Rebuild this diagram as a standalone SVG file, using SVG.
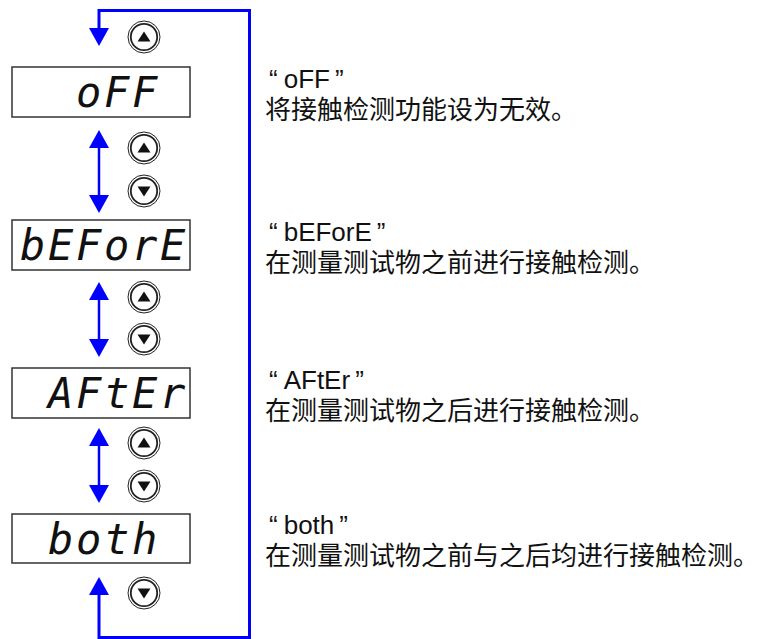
<svg xmlns="http://www.w3.org/2000/svg" xmlns:xlink="http://www.w3.org/1999/xlink" width="760" height="639" viewBox="0 0 760 639">
<style>
.box{fill:#fff;stroke:#333;stroke-width:1.5}
.seg{font-family:"DejaVu Sans Mono","Liberation Mono",monospace;font-style:oblique;font-size:42px;fill:#111}
.lat{font-family:"Liberation Sans",Arial,sans-serif;font-size:26px;fill:#111}
.cjk{font-family:"Noto Sans CJK SC","Liberation Sans",sans-serif;font-size:26px;fill:#111}
.loop{fill:none;stroke:#0000ff;stroke-width:3}
.dbl{fill:none;stroke:#0000ff;stroke-width:2.5}
.ring1{fill:#fff;stroke:#222;stroke-width:1}
.ring2{fill:#fff;stroke:#222;stroke-width:1.8}
.tri{fill:#111}
</style>
<defs>
<marker id="ah" viewBox="0 0 18 20" refX="0" refY="10" markerWidth="18" markerHeight="20" markerUnits="userSpaceOnUse" orient="auto-start-reverse">
<path d="M0,0 L18,10 L0,20 Z" fill="#0000ff"/>
</marker>
<g id="btnUp"><circle r="16" class="ring1"/><circle r="13.2" class="ring2"/><path d="M0,-5.5 L6.5,4.5 L-6.5,4.5 Z" class="tri"/></g>
<g id="btnDown"><circle r="16" class="ring1"/><circle r="13.2" class="ring2"/><path d="M0,5.5 L6.5,-4.5 L-6.5,-4.5 Z" class="tri"/></g>
</defs>

<g id="connectors">
<path class="loop" d="M99,595 L99,637.5 L249.5,637.5 L249.5,10.5 L99,10.5 L99,28" marker-start="url(#ah)" marker-end="url(#ah)"/>
<path class="dbl" d="M99,148 L99,195" marker-start="url(#ah)" marker-end="url(#ah)"/>
<path class="dbl" d="M99,300 L99,339" marker-start="url(#ah)" marker-end="url(#ah)"/>
<path class="dbl" d="M99,446 L99,485" marker-start="url(#ah)" marker-end="url(#ah)"/>
</g>

<g id="btn-0"><use xlink:href="#btnUp" x="144" y="37"/></g>
<g id="btn-1u"><use xlink:href="#btnUp" x="144" y="148"/></g>
<g id="btn-1d"><use xlink:href="#btnDown" x="144" y="191"/></g>
<g id="btn-2u"><use xlink:href="#btnUp" x="144" y="297"/></g>
<g id="btn-2d"><use xlink:href="#btnDown" x="144" y="339"/></g>
<g id="btn-3u"><use xlink:href="#btnUp" x="144" y="443"/></g>
<g id="btn-3d"><use xlink:href="#btnDown" x="144" y="486"/></g>
<g id="btn-4d"><use xlink:href="#btnDown" x="144" y="593"/></g>

<g id="node-off">
<rect class="box" x="12" y="67" width="178" height="50"/>
<text class="seg" x="76 104 132" y="107">oFF</text>
</g>
<g id="node-before">
<rect class="box" x="12" y="220" width="178" height="50"/>
<text class="seg" x="20 48 76 104 132 160" y="260">bEForE</text>
</g>
<g id="node-after">
<rect class="box" x="12" y="368" width="178" height="50"/>
<text class="seg" x="48 76 104 132 160" y="408">AFtEr</text>
</g>
<g id="node-both">
<rect class="box" x="12" y="514" width="178" height="49"/>
<text class="seg" x="48 76 104 132" y="554">both</text>
</g>

<g id="desc-off">
<text class="lat" x="269" y="88">“<tspan dx="6">oFF</tspan><tspan dx="5">”</tspan></text>
<text class="cjk" x="265" y="119">将接触检测功能设为无效。</text>
</g>
<g id="desc-before">
<text class="lat" x="269" y="241">“<tspan dx="6">bEForE</tspan><tspan dx="5">”</tspan></text>
<text class="cjk" x="265" y="272">在测量测试物之前进行接触检测。</text>
</g>
<g id="desc-after">
<text class="lat" x="269" y="389">“<tspan dx="6">AFtEr</tspan><tspan dx="5">”</tspan></text>
<text class="cjk" x="265" y="420">在测量测试物之后进行接触检测。</text>
</g>
<g id="desc-both">
<text class="lat" x="269" y="534">“<tspan dx="6">both</tspan><tspan dx="5">”</tspan></text>
<text class="cjk" x="265" y="565">在测量测试物之前与之后均进行接触检测。</text>
</g>
</svg>
